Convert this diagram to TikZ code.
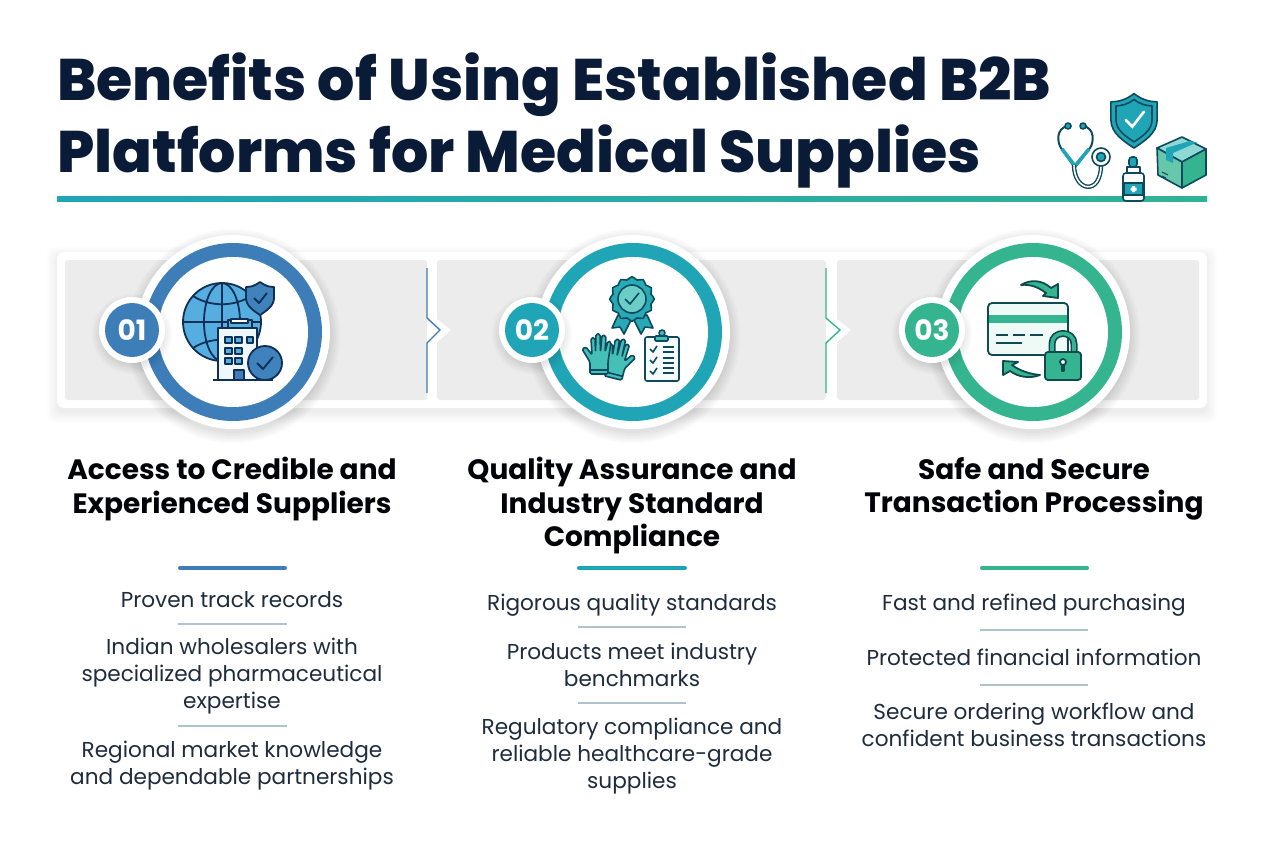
\documentclass[tikz,border=0pt]{standalone}
\usepackage{fontspec}
\setmainfont{Poppins}
\newfontfamily\heavyfont{Poppins ExtraBold}
\usetikzlibrary{positioning, calc}
\definecolor{navy}{HTML}{0A1B38}
\definecolor{bodyink}{HTML}{1F2C3D}
\definecolor{sepgray}{HTML}{AFC3CC}
\definecolor{panelgray}{HTML}{ECECEC}
\definecolor{blueone}{HTML}{3D7DB8}
\definecolor{tealtwo}{HTML}{1FA5B5}
\definecolor{greenthree}{HTML}{35B58F}
\definecolor{globeink}{HTML}{0F2F57}
\definecolor{globefill}{HTML}{55AEDF}
\definecolor{tealink}{HTML}{0D4A5E}
\definecolor{mint}{HTML}{45C0B8}
\definecolor{greenink}{HTML}{0E4A50}
\tikzstyle{titletext} = [anchor=north west, inner sep=0pt, align=left, text=navy, font=\fontsize{58.6}{72}\heavyfont]
\tikzstyle{headtext} = [inner sep=0pt, align=center, text=black!90!navy, font=\fontsize{28}{33.5}\selectfont\bfseries]
\tikzstyle{bodytext} = [inner sep=0pt, align=center, text=bodyink, font=\fontsize{21.6}{27}\selectfont]
\tikzstyle{badgetext} = [inner sep=0pt, text=white, font=\fontsize{28}{30}\selectfont\bfseries]
\tikzstyle{halo} = [circle, inner sep=0pt, fill=white, minimum size=194pt]
\tikzstyle{ring} = [circle, inner sep=0pt, minimum size=178pt]
\tikzstyle{hole} = [circle, inner sep=0pt, fill=white, minimum size=150pt]
\tikzstyle{badgehalo} = [circle, inner sep=0pt, fill=white, minimum size=66pt]
\tikzstyle{badge} = [circle, inner sep=0pt, minimum size=54pt]
\tikzstyle{panel} = [fill=panelgray, rounded corners=3pt]
\tikzstyle{accent} = [line width=4pt, line cap=round]
\tikzstyle{sep} = [line width=1.5pt, sepgray]
\tikzstyle{divider} = [line width=1.4pt]
\tikzstyle{notch} = [fill=white]
\tikzstyle{iconone} = [draw=globeink, line width=1.8pt, line join=round]
\tikzstyle{icontwo} = [draw=tealink, line width=1.6pt, line join=round]
\tikzstyle{iconthree} = [draw=greenink, line width=1.8pt, line join=round]
\tikzstyle{iconhead} = [draw=tealink, line width=1.6pt, line join=round]
\newcommand{\softcircle}[3]{\foreach \d in {0,2,...,10}{\fill[black,opacity=.02] (#1,#2+4) circle ({#3+\d});}}
\newcommand{\shieldpath}{(0,-16) .. controls (-5,-12) and (-10,-11) .. (-14,-11) -- (-14,0) .. controls (-14,8) and (-6,13) .. (0,17) .. controls (6,13) and (14,8) .. (14,0) -- (14,-11) .. controls (10,-11) and (5,-12) .. (0,-16) -- cycle}
\newcommand{\glovepath}{(-9,0) -- (-9,-12) -- (-17,-25) -- (-13,-27) -- (-7,-19) -- (-8,-36) -- (-4,-36) -- (-3.5,-22) -- (-3,-40) -- (1,-40) -- (1.5,-22) -- (3,-39) -- (7,-38) -- (6,-22) -- (9,-33) -- (12,-32) -- (9,-12) -- (9,0) -- cycle}
\begin{document}
\begin{tikzpicture}[x=1pt,y=-1pt]
\useasboundingbox (0,0) rectangle (1264,848);
\fill[white] (0,0) rectangle (1264,848);

\node (title) [titletext] at (57,53) {Benefits of Using Established B2B\\Platforms for Medical Supplies};
\shade[left color=tealtwo, right color=greenthree!80!tealtwo] (57,196) rectangle (1207,201);

\foreach \d in {0,2,...,10}{\fill[black,opacity=.01,rounded corners=8pt] (57-\d,252+5-\d) rectangle (1207+\d,408+5+\d);}
\fill[white, rounded corners=7pt] (57,252) rectangle (1207,408);
\fill[panel] (65,260) rectangle (427,400);
\fill[panel] (437,260) rectangle (826,400);
\fill[panel] (837,260) rectangle (1199,400);
\fill[notch] (437,319) -- (451,330) -- (437,342) -- cycle;
\fill[notch] (837,319) -- (851,330) -- (837,342) -- cycle;
\fill[notch] (427,318) -- (440,330) -- (427,343) -- cycle;
\fill[notch] (826,318) -- (840,330) -- (826,343) -- cycle;
\draw[divider, blueone] (427,268) -- (427,318) -- (440,330) -- (427,343) -- (427,393);
\draw[divider, greenthree] (826,268) -- (826,318) -- (840,330) -- (826,343) -- (826,393);

\softcircle{233}{332}{97}
\softcircle{633}{332}{97}
\softcircle{1033}{332}{97}
\node (halo1) [halo] at (233,332) {};
\node (ring1) [ring, fill=blueone] at (233,332) {};
\node (hole1) [hole] at (233,332) {};
\node (halo2) [halo] at (633,332) {};
\node (ring2) [ring, fill=tealtwo] at (633,332) {};
\node (hole2) [hole] at (633,332) {};
\node (halo3) [halo] at (1033,332) {};
\node (ring3) [ring, fill=greenthree] at (1033,332) {};
\node (hole3) [hole] at (1033,332) {};
\softcircle{132}{330}{30}
\softcircle{532}{330}{30}
\softcircle{932}{330}{30}
\node (halob1) [badgehalo] at (132,330) {};
\node (badge1) [badge, fill=blueone] at (132,330) {};
\node (num1) [badgetext] at (badge1) {01};
\node (halob2) [badgehalo] at (532,330) {};
\node (badge2) [badge, fill=tealtwo] at (532,330) {};
\node (num2) [badgetext] at (badge2) {02};
\node (halob3) [badgehalo] at (932,330) {};
\node (badge3) [badge, fill=greenthree] at (932,330) {};
\node (num3) [badgetext] at (badge3) {03};

\draw[iconone, fill=globefill] (222,322) circle (39);
\draw[iconone] (222,322) ellipse (18 and 39);
\draw[iconone] (222,283) -- (222,361) (183,322) -- (261,322);
\draw[iconone] (193,296) .. controls (210,307) and (234,307) .. (251,296);
\draw[iconone] (193,348) .. controls (210,337) and (234,337) .. (251,348);
\begin{scope}[shift={(260,298)}]
\draw[iconone, fill=blueone!90!globefill] \shieldpath;
\draw[iconone] (-6,0) -- (-1,5) -- (7,-5);
\end{scope}
\draw[iconone, fill=globefill] (228,320) rectangle (252,328);
\draw[iconone, fill=white] (231,319) rectangle (248,323);
\draw[iconone, fill=white!90!globefill] (218,328) rectangle (257,380);
\draw[iconone, fill=globefill] (225,337) rectangle (232,343);
\draw[iconone, fill=globefill] (235,337) rectangle (242,343);
\draw[iconone, fill=globefill] (247,337) rectangle (253,343);
\draw[iconone, fill=globefill] (225,348) rectangle (232,354);
\draw[iconone, fill=globefill] (235,348) rectangle (242,354);
\draw[iconone, fill=globefill] (225,358) rectangle (232,364);
\draw[iconone, fill=globefill] (235,358) rectangle (242,364);
\draw[iconone, fill=blueone] (234,370) rectangle (244,380);
\draw[iconone] (213,380) -- (273,380);
\draw[iconone, fill=blueone!90!globefill] (265,363) circle (17);
\draw[iconone] (257,363) -- (263,369) -- (273,357);

\draw[icontwo, fill=tealtwo!80!mint] (618,315) -- (612,328) -- (620,327) -- (624,334) -- (632,318) -- cycle;
\draw[icontwo, fill=tealtwo!80!mint] (647,315) -- (653,328) -- (645,327) -- (641,334) -- (633,318) -- cycle;
\draw[icontwo, fill=tealtwo!80!mint] plot[smooth cycle, domain=0:345, samples=24] ({632+(21+1.4*cos(12*\x))*cos(\x)},{299+(21+1.4*cos(12*\x))*sin(\x)});
\draw[icontwo, fill=mint!80!white] (632,299) circle (14);
\draw[icontwo] (625,299) -- (630,304) -- (639,293);
\begin{scope}[shift={(613,378)}, rotate=-14, xscale=-1]
\draw[icontwo, fill=mint, rounded corners=1.5pt] \glovepath;
\draw[icontwo] (-9,-4) -- (9,-4);
\end{scope}
\begin{scope}[shift={(599,374)}]
\draw[icontwo, fill=mint, rounded corners=1.5pt] \glovepath;
\draw[icontwo] (-9,-4) -- (9,-4);
\end{scope}
\draw[icontwo, fill=white!95!mint, rounded corners=2pt] (645,337) rectangle (679,381);
\draw[icontwo, fill=mint] (662,333) circle (3);
\draw[icontwo, fill=mint, rounded corners=1pt] (655,336) rectangle (668,341);
\draw[icontwo] (650,349) -- (653,352) -- (657,346) (650,360) -- (653,363) -- (657,357) (650,371) -- (653,374) -- (657,368);
\draw[icontwo] (663,347) -- (674,347) (663,352) -- (674,352) (663,358) -- (674,358) (663,363) -- (674,363) (663,368) -- (674,368) (663,373) -- (674,373);

\draw[iconthree, fill=greenthree] (1021,285) .. controls (1031,279) and (1042,280) .. (1051,288) -- (1058,284) -- (1058,298) -- (1043,296) -- (1046,293) .. controls (1038,287) and (1030,284) .. (1021,285) -- cycle;
\draw[iconthree, fill=greenthree] (1040,375) .. controls (1030,379) and (1018,377) .. (1010,371) -- (1003,375) -- (1003,361) -- (1018,362) -- (1012,365) .. controls (1020,371) and (1030,374) .. (1040,375) -- cycle;
\draw[iconthree, fill=white!92!greenthree, rounded corners=4pt] (988,303) rectangle (1068,355);
\fill[greenthree] (989,315) rectangle (1067,323);
\draw[iconthree] (996,335) -- (1008,335) (1013,335) -- (1025,335) (1030,335) -- (1043,335) (996,343) -- (1022,343);
\draw[greenink, line width=7pt] (1052,354) -- (1052,344) .. controls (1052,330) and (1074,330) .. (1074,344) -- (1074,354);
\draw[greenthree, line width=3.6pt] (1052,354) -- (1052,344) .. controls (1052,330) and (1074,330) .. (1074,344) -- (1074,354);
\draw[iconthree, fill=greenthree, rounded corners=3pt] (1045,352) rectangle (1081,380);
\draw[iconthree, fill=white] (1063,362) circle (3) (1062,365) rectangle (1064,371);

\begin{scope}[shift={(1134,120)}, scale=1.65]
\draw[iconhead, fill=tealtwo] \shieldpath;
\begin{scope}[scale=.78]
\draw[iconhead] \shieldpath;
\end{scope}
\draw[white, line width=2.6pt, line cap=round] (-5,0) -- (-1,4) -- (6,-5);
\end{scope}
\draw[iconhead, line width=2pt] (1068,126) .. controls (1056,128) and (1057,142) .. (1061,148) -- (1073,165);
\draw[iconhead, line width=2pt] (1083,126) .. controls (1095,128) and (1094,142) .. (1090,148) -- (1077,165);
\draw[tealtwo, line width=3.6pt] (1062,149) -- (1075,166) -- (1089,149);
\draw[iconhead, line width=4.4pt] (1074,165) .. controls (1074,192) and (1101,196) .. (1101,165);
\draw[white, line width=1.6pt] (1074,165) .. controls (1074,192) and (1101,196) .. (1101,165);
\draw[iconhead, fill=tealtwo] (1068,126) circle (3) (1083,126) circle (3);
\draw[iconhead, fill=white] (1101,157) circle (9);
\draw[iconhead, fill=tealtwo] (1101,157) circle (4.5);
\draw[iconhead, fill=mint!60!white] (1157,148) -- (1182,137) -- (1206,149) -- (1182,162) -- cycle;
\draw[iconhead, fill=greenthree!75!white] (1157,148) -- (1182,162) -- (1182,188) -- (1158,175) -- cycle;
\draw[iconhead, fill=greenthree] (1182,162) -- (1206,149) -- (1206,175) -- (1182,188) -- cycle;
\fill[tealtwo] (1166,148) -- (1190,141) -- (1197,142.5) -- (1173,153) -- (1173,163) -- (1166,160) -- cycle;
\draw[iconhead, line width=1pt] (1162,172) -- (1168,175) (1162,176) -- (1166,178);
\draw[iconhead, fill=white, rounded corners=3pt] (1123,173) rectangle (1144,201);
\draw[iconhead, fill=white] (1127,167) rectangle (1140,173);
\draw[iconhead, fill=tealtwo, rounded corners=3pt] (1129,157) rectangle (1137,167);
\draw[iconhead, fill=tealtwo] (1124,183) rectangle (1143,195);
\fill[white] (1132,186) rectangle (1135,192) (1130.5,187.5) rectangle (1136.5,190.5);

\node (head1) [headtext] at (232,489) {Access to Credible and\\Experienced Suppliers};
\node (head2) [headtext] at (632,506) {Quality Assurance and\\Industry Standard\\Compliance};
\node (head3) [headtext] at (1034,489) {Safe and Secure\\Transaction Processing};
\coordinate (accent1l) at (180,568);
\coordinate (accent1r) at (285,568);
\coordinate (accent2l) at (579,568);
\coordinate (accent2r) at (685,568);
\coordinate (accent3l) at (982,568);
\coordinate (accent3r) at (1087,568);
\draw[accent, blueone] (accent1l) -- (accent1r);
\draw[accent, tealtwo] (accent2l) -- (accent2r);
\draw[accent, greenthree] (accent3l) -- (accent3r);

\node (item11) [bodytext] at (232,600) {Proven track records};
\node (item12) [bodytext] at (232,676) {Indian wholesalers with\\specialized pharmaceutical\\expertise};
\node (item13) [bodytext] at (232,766) {Regional market knowledge\\and dependable partnerships};
\draw[sep] (178,624) -- (287,624);
\draw[sep] (178,726) -- (287,726);

\node (item21) [bodytext] at (632,605) {Rigorous quality standards};
\node (item22) [bodytext] at (632,665) {Products meet industry\\benchmarks};
\node (item23) [bodytext] at (632,756) {Regulatory compliance and\\reliable healthcare-grade\\supplies};
\draw[sep] (578,627) -- (686,627);
\draw[sep] (578,703) -- (686,703);

\node (item31) [bodytext] at (1034,605) {Fast and refined purchasing};
\node (item32) [bodytext] at (1034,657) {Protected financial information};
\node (item33) [bodytext] at (1034,725) {Secure ordering workflow and\\confident business transactions};
\draw[sep] (980,630) -- (1088,630);
\draw[sep] (980,685) -- (1088,685);
\end{tikzpicture}
\end{document}
